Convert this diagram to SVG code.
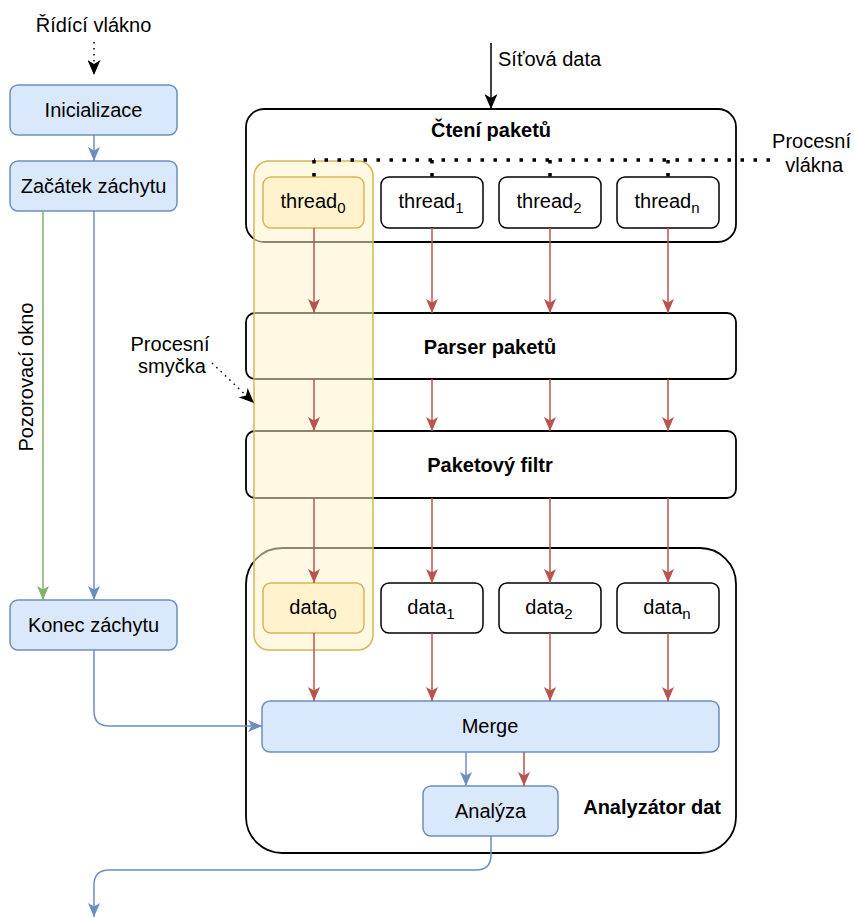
<svg xmlns="http://www.w3.org/2000/svg" width="854" height="918" viewBox="0 0 854 918">
  <style>
    text { font-family: "Liberation Sans", Arial, sans-serif; font-size: 20px; fill: #000; }
    .b { font-weight: bold; }
    .c { text-anchor: middle; }
    .sub { font-size: 15px; }
    .blue { fill: #dae8fc; stroke: #6c8ebf; stroke-width: 1.5; }
    .plain { fill: #fff; stroke: #000; stroke-width: 1.5; }
    .yel { fill: #fff2cc; stroke: #d6b656; stroke-width: 1.5; }
    .cont { fill: #fff; stroke: #000; stroke-width: 1.8; }
    .e-red { fill: none; stroke: #b85450; stroke-width: 1.5; marker-end: url(#ah-red); }
    .e-blue { fill: none; stroke: #6c8ebf; stroke-width: 1.5; marker-end: url(#ah-blue); }
    .e-green { fill: none; stroke: #82b366; stroke-width: 1.5; marker-end: url(#ah-green); }
    .e-black { fill: none; stroke: #000; stroke-width: 1.5; marker-end: url(#ah-black); }
    .e-dot { fill: none; stroke: #000; stroke-width: 1.5; stroke-dasharray: 1.5 4.5; marker-end: url(#ah-black); }
    .e-thick-dot { fill: none; stroke: #000; stroke-width: 3.5; stroke-dasharray: 3.5 9.5; }
  </style>
  <defs>
    <marker id="ah-red" markerUnits="userSpaceOnUse" viewBox="0 0 14 12" refX="14" refY="6" markerWidth="14" markerHeight="12" orient="auto">
      <path d="M0,0 L14,6 L0,12 L3.5,6 Z" fill="#b85450"/>
    </marker>
    <marker id="ah-blue" markerUnits="userSpaceOnUse" viewBox="0 0 14 12" refX="14" refY="6" markerWidth="14" markerHeight="12" orient="auto">
      <path d="M0,0 L14,6 L0,12 L3.5,6 Z" fill="#6c8ebf"/>
    </marker>
    <marker id="ah-green" markerUnits="userSpaceOnUse" viewBox="0 0 14 12" refX="14" refY="6" markerWidth="14" markerHeight="12" orient="auto">
      <path d="M0,0 L14,6 L0,12 L3.5,6 Z" fill="#82b366"/>
    </marker>
    <marker id="ah-black" markerUnits="userSpaceOnUse" viewBox="0 0 15 13" refX="15" refY="6.5" markerWidth="15" markerHeight="13" orient="auto">
      <path d="M0,0 L15,6.5 L0,13 L4,6.5 Z" fill="#000"/>
    </marker>
  </defs>

  <!-- control thread column -->
  <g id="ridici-vlakno">
    <text class="c" x="93.5" y="32">Řídící vlákno</text>
  </g>
  <g id="inicializace">
    <rect class="blue" x="10" y="85" width="167" height="50" rx="8"/>
    <text class="c" x="93.5" y="117">Inicializace</text>
  </g>
  <g id="zacatek-zachytu">
    <rect class="blue" x="10" y="161" width="167" height="50" rx="8"/>
    <text class="c" x="93.5" y="193">Začátek záchytu</text>
  </g>
  <g id="pozorovaci-okno">
    <text class="c" transform="translate(33,377) rotate(-90)">Pozorovací okno</text>
  </g>
  <g id="konec-zachytu">
    <rect class="blue" x="10" y="600" width="167" height="50" rx="8"/>
    <text class="c" x="93.5" y="632">Konec záchytu</text>
  </g>

  <!-- outer stage containers -->
  <g id="cteni-paketu">
    <rect class="cont" x="246" y="109" width="490" height="133" rx="18"/>
    <text class="c b" x="491" y="137">Čtení paketů</text>
  </g>
  <g id="parser-paketu">
    <rect class="cont" x="246" y="313" width="490" height="66" rx="9"/>
    <text class="c b" x="490" y="354">Parser paketů</text>
  </g>
  <g id="paketovy-filtr">
    <rect class="cont" x="246" y="431" width="490" height="67" rx="9"/>
    <text class="c b" x="490" y="472">Paketový filtr</text>
  </g>
  <g id="analyzator-dat">
    <rect class="cont" x="246" y="548" width="490" height="305" rx="36"/>
    <text class="b" x="721" y="814" text-anchor="end">Analyzátor dat</text>
  </g>

  <g id="thread1">
    <rect class="plain" x="381" y="177" width="102" height="51" rx="8"/>
    <text class="c" x="431" y="208">thread<tspan class="sub" dy="5">1</tspan></text>
  </g>
  <g id="thread2">
    <rect class="plain" x="499" y="177" width="102" height="51" rx="8"/>
    <text class="c" x="549" y="208">thread<tspan class="sub" dy="5">2</tspan></text>
  </g>
  <g id="threadn">
    <rect class="plain" x="617" y="177" width="102" height="51" rx="8"/>
    <text class="c" x="667" y="208">thread<tspan class="sub" dy="5">n</tspan></text>
  </g>
  <g id="data1">
    <rect class="plain" x="381" y="583" width="102" height="50" rx="8"/>
    <text class="c" x="431" y="614">data<tspan class="sub" dy="5">1</tspan></text>
  </g>
  <g id="data2">
    <rect class="plain" x="499" y="583" width="102" height="50" rx="8"/>
    <text class="c" x="549" y="614">data<tspan class="sub" dy="5">2</tspan></text>
  </g>
  <g id="datan">
    <rect class="plain" x="617" y="583" width="102" height="50" rx="8"/>
    <text class="c" x="667" y="614">data<tspan class="sub" dy="5">n</tspan></text>
  </g>
  <g id="merge">
    <rect class="blue" x="262" y="701" width="457" height="51" rx="8"/>
    <text class="c" x="490" y="733">Merge</text>
  </g>
  <g id="analyza">
    <rect class="blue" x="423" y="786" width="135" height="50" rx="8"/>
    <text class="c" x="490.5" y="818">Analýza</text>
  </g>

  <!-- translucent band marking one processing loop -->
  <g id="procesni-smycka-pas">
    <rect x="254" y="161" width="119" height="489" rx="15" fill="#fff2cc" fill-opacity="0.55" stroke="#d6b656" stroke-width="1.5"/>
  </g>
  <g id="thread0">
    <rect class="yel" x="263" y="177" width="101" height="51" rx="8"/>
    <text class="c" x="313" y="208">thread<tspan class="sub" dy="5">0</tspan></text>
  </g>
  <g id="data0">
    <rect class="yel" x="263" y="583" width="101" height="50" rx="8"/>
    <text class="c" x="313" y="614">data<tspan class="sub" dy="5">0</tspan></text>
  </g>

  <g id="sitova-data">
    <text x="498" y="66">Síťová data</text>
  </g>
  <g id="procesni-vlakna">
    <text x="851" y="148" text-anchor="end">Procesní</text>
    <text x="843" y="172" text-anchor="end">vlákna</text>
  </g>
  <g id="procesni-smycka">
    <text class="c" x="170" y="351">Procesní</text>
    <text class="c" x="172" y="373">smyčka</text>
  </g>

  <g id="connectors">
    <path class="e-dot" d="M94,42 L94,75"/>
    <path class="e-blue" d="M94,135 L94,161"/>
    <path class="e-green" d="M43,211 L43,600"/>
    <path class="e-blue" d="M94,211 L94,600"/>
    <path class="e-blue" d="M94,650 L94,711 Q94,726 109,726 L262,726"/>
    <path class="e-black" d="M491,43 L491,109"/>

    <path class="e-thick-dot" d="M770,160 L314,160 M314,160 L314,177 M432,160 L432,177 M550,160 L550,177 M668,160 L668,177"/>
    <path class="e-dot" d="M212,363 L254,403"/>

    <path class="e-red" d="M314,228 L314,313"/>
    <path class="e-red" d="M432,228 L432,313"/>
    <path class="e-red" d="M550,228 L550,313"/>
    <path class="e-red" d="M668,228 L668,313"/>

    <path class="e-red" d="M314,379 L314,431"/>
    <path class="e-red" d="M432,379 L432,431"/>
    <path class="e-red" d="M550,379 L550,431"/>
    <path class="e-red" d="M668,379 L668,431"/>

    <path class="e-red" d="M314,498 L314,583"/>
    <path class="e-red" d="M432,498 L432,583"/>
    <path class="e-red" d="M550,498 L550,583"/>
    <path class="e-red" d="M668,498 L668,583"/>

    <path class="e-red" d="M314,633 L314,701"/>
    <path class="e-red" d="M432,633 L432,701"/>
    <path class="e-red" d="M550,633 L550,701"/>
    <path class="e-red" d="M668,633 L668,701"/>

    <path class="e-blue" d="M466,752 L466,786"/>
    <path class="e-red" d="M524,752 L524,786"/>
    <path class="e-blue" d="M491,836 L491,855 Q491,870 476,870 L109,870 Q94,870 94,885 L94,917"/>
  </g>
</svg>
